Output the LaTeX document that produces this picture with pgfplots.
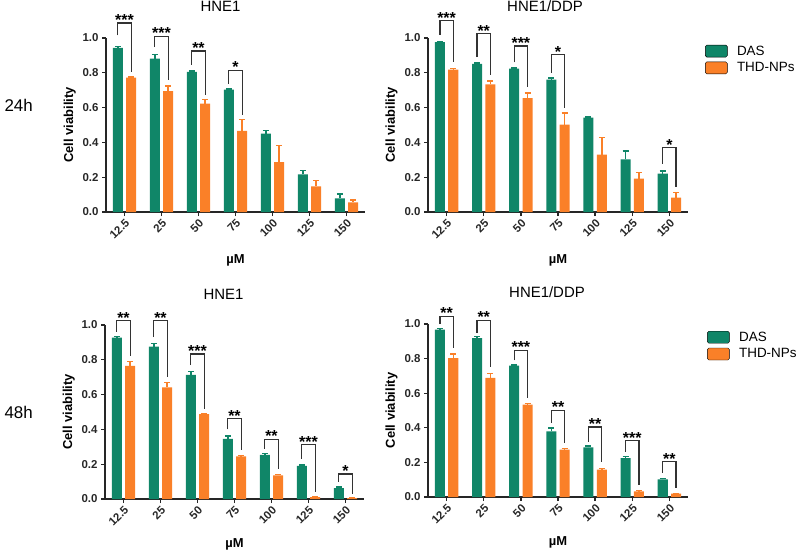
\documentclass[border=0pt]{standalone}
\usepackage{pgfplots}
\pgfplotsset{compat=1.18}
\usepackage{pgfplotstable}
\usepackage{fontspec}
\setmainfont{Liberation Sans}

\definecolor{dasgreen}{RGB}{16,134,104}
\definecolor{thdorange}{RGB}{250,128,40}

% x: 0..6 = 12.5, 25, 50, 75, 100, 125, 150 uM
\pgfplotstableread{
x das daserr thd thderr
0 0.943 0.008 0.772 0.004
1 0.881 0.025 0.695 0.030
2 0.805 0.006 0.623 0.025
3 0.703 0.004 0.466 0.067
4 0.450 0.019 0.287 0.096
5 0.216 0.024 0.148 0.034
6 0.079 0.024 0.056 0.013
}\tophne
\pgfplotstableread{
x das daserr thd thderr
0 0.977 0.004 0.818 0.006
1 0.852 0.004 0.734 0.018
2 0.824 0.004 0.655 0.029
3 0.761 0.010 0.502 0.067
4 0.542 0.004 0.330 0.097
5 0.303 0.048 0.192 0.036
6 0.220 0.016 0.082 0.029
}\topddp
\pgfplotstableread{
x das daserr thd thderr
0 0.927 0.006 0.765 0.025
1 0.876 0.019 0.641 0.028
2 0.713 0.019 0.488 0.005
3 0.346 0.017 0.245 0.005
4 0.254 0.008 0.136 0.005
5 0.191 0.005 0.011 0.003
6 0.062 0.008 0.005 0.002
}\bothne
\pgfplotstableread{
x das daserr thd thderr
0 0.967 0.006 0.803 0.024
1 0.919 0.008 0.688 0.025
2 0.759 0.004 0.534 0.005
3 0.380 0.019 0.274 0.006
4 0.287 0.008 0.158 0.008
5 0.225 0.010 0.033 0.003
6 0.102 0.006 0.020 0.002
}\botddp

\tikzset{
  sigline/.style={line width=1.3bp, black!80},
  sigstar/.style={font=\bfseries\fontsize{16}{16}\selectfont, anchor=base, yshift=-2.5bp, inner sep=0pt},
  legstyle/.style={draw=none, fill=none, inner sep=0pt, row sep=3bp,
    font=\fontsize{13.5}{13.5}\selectfont, nodes={inner sep=1.5bp},
    /tikz/every odd column/.append style={column sep=8bp}},
}

\pgfplotsset{
  panel/.style={
    scale only axis, width=259bp, height=174bp,
    xmin=-0.5, xmax=6.5, ymin=0, ymax=1,
    axis lines*=left,
    axis line style={line width=1.4bp, black!85},
    clip=false,
    xtick={0,...,6}, xticklabels={12.5,25,50,75,100,125,150},
    ytick={0,0.2,0.4,0.6,0.8,1.0},
    yticklabel style={/pgf/number format/.cd, fixed, fixed zerofill, precision=1},
    /pgf/number format/assume math mode=true,
    tick align=outside, major tick length=4bp,
    tick style={line width=1.3bp, black!85},
    ticklabel style={font=\bfseries\fontsize{11.5}{11.5}\selectfont, text=black!85},
    xticklabel style={rotate=45, anchor=north east, inner sep=1.5bp},
    xlabel={µM},
    xlabel style={at={(axis description cs:0.5,0)}, anchor=center, yshift=-48bp,
      font=\bfseries\fontsize{13}{13}\selectfont},
    ylabel={Cell viability},
    ylabel style={at={(axis description cs:-0.14,0.5)}, anchor=center,
      font=\bfseries\fontsize{13}{13}\selectfont},
    title style={at={(axis description cs:0.5,1)}, anchor=center, yshift=26bp,
      font=\fontsize{15}{15}\selectfont},
    legend image code/.code={\fill[##1,rounded corners=1.5bp] (0bp,-6bp) rectangle (22bp,6bp);},
    legend cell align=left,
  },
}

\newcommand{\bars}[1]{%
  \addplot[ybar, bar width=0.27, fill=dasgreen, draw=none, forget plot,
    error bars/.cd, y dir=plus, y explicit,
    error bar style={draw=dasgreen, line width=1.4bp},
    error mark options={rotate=90, draw=dasgreen, line width=1.4bp, mark size=3bp}]
    table[x expr=\thisrow{x}-0.18, y=das, y error=daserr] {#1};
  \addplot[ybar, bar width=0.27, fill=thdorange, draw=none, forget plot,
    error bars/.cd, y dir=plus, y explicit,
    error bar style={draw=thdorange, line width=1.4bp},
    error mark options={rotate=90, draw=thdorange, line width=1.4bp, mark size=3bp}]
    table[x expr=\thisrow{x}+0.18, y=thd, y error=thderr] {#1};
}
% \sig{x}{top}{left end}{right end}{stars}
\newcommand{\sig}[5]{%
  \draw[sigline] (axis cs:#1-0.18,#3) |- (axis cs:#1+0.18,#2) -- (axis cs:#1+0.18,#4);
  \node[sigstar] at (axis cs:#1,#2) {#5};
}

\begin{document}
\begin{tikzpicture}
\useasboundingbox (0,0) rectangle (800bp,-558bp);

\node[anchor=west, font=\fontsize{17}{17}\selectfont] at (1bp,-105bp) {24h};
\node[anchor=west, font=\fontsize{17}{17}\selectfont] at (1bp,-412bp) {48h};

% 24h, HNE1
\begin{axis}[panel, at={(106bp,-212bp)}, anchor=south west,
  title={HNE1}, title style={xshift=-15bp}]
\bars{\tophne}
\sig{0}{1.086}{1.015}{0.805}{***}
\sig{1}{1.010}{0.948}{0.757}{***}
\sig{2}{0.925}{0.845}{0.670}{**}
\sig{3}{0.814}{0.737}{0.556}{*}
\end{axis}

% 24h, HNE1/DDP
\begin{axis}[panel, at={(428bp,-212bp)}, anchor=south west, width=260bp,
  title={HNE1/DDP}, title style={xshift=-13bp},
  legend style={legstyle, at={(axis description cs:1.065,0.966)}, anchor=north west}]
\addlegendimage{fill=dasgreen}
\addlegendentry{DAS}
\addlegendimage{fill=thdorange}
\addlegendentry{THD-NPs}
\bars{\topddp}
\sig{0}{1.100}{1.020}{0.860}{***}
\sig{1}{1.025}{0.890}{0.790}{**}
\sig{2}{0.954}{0.860}{0.720}{***}
\sig{3}{0.904}{0.800}{0.600}{*}
\sig{6}{0.370}{0.276}{0.144}{*}
\end{axis}

% 48h, HNE1
\begin{axis}[panel, at={(105bp,-499bp)}, anchor=south west,
  title={HNE1}, title style={xshift=-11bp, yshift=-1.5bp}, xlabel style={yshift=3bp}]
\bars{\bothne}
\sig{0}{1.025}{0.960}{0.820}{**}
\sig{1}{1.025}{0.930}{0.700}{**}
\sig{2}{0.834}{0.770}{0.520}{***}
\sig{3}{0.461}{0.400}{0.280}{**}
\sig{4}{0.344}{0.290}{0.170}{**}
\sig{5}{0.312}{0.230}{0.040}{***}
\sig{6}{0.144}{0.100}{0.030}{*}
\end{axis}

% 48h, HNE1/DDP
\begin{axis}[panel, at={(428bp,-497bp)}, anchor=south west, width=260bp, height=173bp,
  title={HNE1/DDP}, title style={xshift=-11bp}, xlabel style={yshift=3bp},
  legend style={legstyle, at={(axis description cs:1.073,0.965)}, anchor=north west}]
\addlegendimage{fill=dasgreen}
\addlegendentry{DAS}
\addlegendimage{fill=thdorange}
\addlegendentry{THD-NPs}
\bars{\botddp}
\sig{0}{1.044}{1.000}{0.860}{**}
\sig{1}{1.021}{0.950}{0.750}{**}
\sig{2}{0.848}{0.790}{0.570}{***}
\sig{3}{0.501}{0.430}{0.310}{**}
\sig{4}{0.405}{0.320}{0.200}{**}
\sig{5}{0.326}{0.260}{0.070}{***}
\sig{6}{0.205}{0.140}{0.050}{**}
\end{axis}
\end{tikzpicture}
\end{document}
